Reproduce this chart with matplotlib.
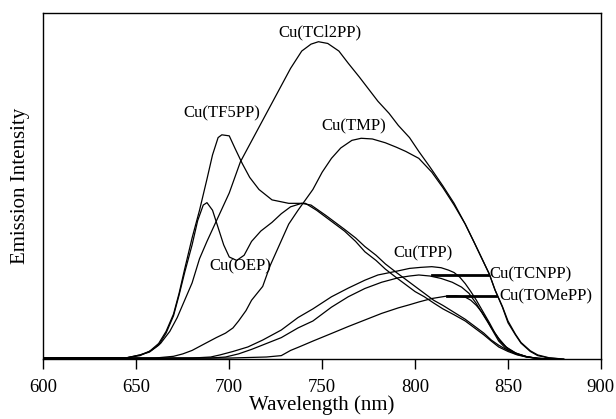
import matplotlib.pyplot as plt

# Spektra (bølgelengde i nm, relativ intensitet)
tcl2pp_x = [600, 645, 652, 658, 663, 668, 672, 676, 680, 684, 688, 694, 700, 706, 714, 721, 727, 733,
            739, 744, 748, 753, 759, 764, 770, 775, 780, 786, 791, 797, 802, 808, 815, 821, 827, 832,
            836, 840, 843, 847, 850, 854, 857, 862, 866, 872, 880]
tcl2pp_y = [.003, .004, .01, .025, .045, .08, .12, .17, .22, .29, .34, .41, .48, .57, .65, .72, .78, .84,
            .89, .91, .917, .912, .89, .855, .815, .78, .745, .71, .675, .64, .60, .555, .50, .45, .39, .335,
            .29, .245, .20, .15, .105, .07, .046, .022, .01, .003, 0]

tf5pp_x = [600, 645, 652, 657, 662, 666, 670, 673, 676, 680, 684, 688, 691, 694, 696, 700, 703, 707, 711,
           716, 723, 732, 741, 747, 752, 757, 762, 768, 773, 779, 784, 790, 795, 800, 805, 810, 815, 821,
           827, 832, 837, 841, 845, 850, 855, 860, 866, 875]
tf5pp_y = [.003, .004, .012, .022, .045, .08, .13, .19, .26, .35, .43, .52, .59, .64, .648, .645, .61, .565,
           .525, .49, .46, .45, .45, .43, .41, .39, .37, .34, .31, .285, .26, .235, .215, .195, .18, .162,
           .145, .128, .11, .09, .07, .052, .035, .022, .012, .006, .002, 0]

oep_x = [600, 645, 652, 657, 662, 666, 670, 673, 676, 680, 683, 686, 688, 691, 694, 697, 700, 704, 708,
         712, 717, 723, 728, 733, 739, 744, 752, 757, 762, 768, 773, 779, 784, 790, 795, 800, 805, 810,
         815, 821, 827, 832, 837, 841, 845, 850, 855, 860, 866, 875]
oep_y = [.003, .004, .012, .02, .04, .075, .125, .185, .25, .33, .40, .445, .452, .43, .38, .33, .295,
         .285, .30, .34, .37, .395, .42, .44, .45, .445, .415, .395, .375, .35, .325, .30, .275, .25, .23,
         .21, .19, .17, .155, .135, .115, .095, .075, .055, .04, .025, .015, .007, .002, 0]

tmp_x = [600, 660, 670, 675, 680, 687, 693, 698, 702, 705, 709, 712, 718, 722, 727, 732, 737, 741, 745,
         750, 755, 760, 766, 771, 777, 784, 790, 795, 802, 809, 815, 821, 827, 832, 836, 840, 843, 847,
         850, 854, 857, 862, 866, 872, 880]
tmp_y = [.003, .003, .008, .015, .025, .045, .062, .075, .09, .11, .14, .17, .21, .27, .33, .39, .43, .46,
         .49, .54, .58, .61, .632, .638, .636, .625, .612, .60, .58, .54, .495, .445, .39, .335, .29, .245,
         .20, .152, .11, .072, .048, .024, .012, .004, 0]

tcnpp_x = [600, 680, 690, 695, 702, 710, 718, 728, 737, 745, 755, 764, 773, 780, 791, 797, 803, 809, 814,
           818, 821, 824, 827, 830, 833, 836, 840, 843, 846, 850, 855, 860, 866, 875]
tcnpp_y = [.002, .003, .006, .012, .022, .035, .055, .084, .12, .145, .18, .205, .228, .243, .255, .262,
           .265, .267, .264, .257, .25, .237, .218, .195, .17, .142, .105, .075, .05, .03, .015, .007, .002, 0]

tpp_x = [600, 690, 698, 705, 712, 720, 728, 737, 745, 755, 764, 773, 782, 791, 797, 802, 808, 814, 820,
         825, 829, 833, 837, 841, 845, 849, 854, 860, 866, 875]
tpp_y = [.002, .003, .006, .015, .028, .045, .062, .09, .11, .15, .18, .204, .222, .235, .24, .243, .24,
         .233, .222, .208, .19, .16, .125, .09, .06, .035, .018, .007, .002, 0]

tomepp_x = [600, 700, 720, 728, 733, 738, 745, 755, 764, 773, 782, 791, 797, 802, 809, 817, 822, 827,
            830, 833, 836, 839, 842, 845, 849, 854, 860, 866, 875]
tomepp_y = [.002, .003, .006, .01, .025, .036, .052, .074, .094, .113, .132, .148, .157, .165, .175, .182,
            .183, .179, .17, .155, .135, .11, .08, .052, .03, .015, .006, .002, 0]

plt.rcParams['font.family'] = ['Liberation Serif', 'DejaVu Serif']

fig = plt.figure(figsize=(6.16, 4.19), dpi=100)
ax = fig.add_axes([0.0705, 0.143, 0.905, 0.826])

for x, y in [(tcl2pp_x, tcl2pp_y), (tf5pp_x, tf5pp_y), (oep_x, oep_y), (tmp_x, tmp_y),
             (tcnpp_x, tcnpp_y), (tpp_x, tpp_y), (tomepp_x, tomepp_y)]:
    ax.plot(x, y, color='black', lw=0.9)

# Etiketter på kurvene
ax.text(748.7, 0.945, 'Cu(TCl2PP)', fontsize=12, ha='center', va='center')
ax.text(695.8, 0.711, 'Cu(TF5PP)', fontsize=12, ha='center', va='center')
ax.text(767, 0.673, 'Cu(TMP)', fontsize=12, ha='center', va='center')
ax.text(706, 0.269, 'Cu(OEP)', fontsize=12, ha='center', va='center')
ax.text(804.5, 0.305, 'Cu(TPP)', fontsize=12, ha='center', va='center')
ax.text(839.8, 0.244, 'Cu(TCNPP)', fontsize=12, ha='left', va='center')
ax.text(845.2, 0.182, 'Cu(TOMePP)', fontsize=12, ha='left', va='center')
ax.plot([809, 839.5], [0.243, 0.243], color='black', lw=2)
ax.plot([817, 843.8], [0.182, 0.182], color='black', lw=2)

ax.set_xlim(600, 900)
ax.set_ylim(0, 1)
ax.set_xticks([600, 650, 700, 750, 800, 850, 900])
ax.set_yticks([])
ax.tick_params(axis='x', direction='out', length=7, width=1, labelsize=13.5, pad=7)
ax.set_xlabel('Wavelength (nm)', fontsize=15, labelpad=0)
ax.set_ylabel('Emission Intensity', fontsize=15, labelpad=10)
for s in ax.spines.values():
    s.set_linewidth(1)

plt.savefig('out.png')
